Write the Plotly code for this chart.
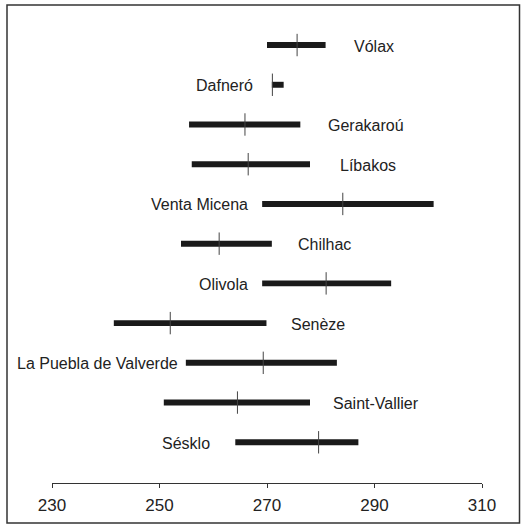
import plotly.graph_objects as go

# Sites, top to bottom
sites = ['Vólax', 'Dafneró', 'Gerakaroú', 'Líbakos', 'Venta Micena', 'Chilhac',
         'Olivola', 'Senèze', 'La Puebla de Valverde', 'Saint-Vallier', 'Sésklo']
low = [270.0, 270.9, 255.5, 256.0, 269.1, 254.0, 269.1, 241.5, 254.9, 250.8, 264.1]
high = [280.9, 273.1, 276.2, 278.0, 301.0, 270.9, 293.1, 269.9, 283.0, 278.0, 287.0]
mean = [275.6, 271.0, 265.9, 266.5, 284.1, 261.1, 281.0, 252.0, 269.3, 264.5, 279.6]
tick_vals = [230, 250, 270, 290, 310]

# label placement: which side of the bar and pixel gap
label_side = ['r', 'l', 'r', 'r', 'l', 'r', 'l', 'r', 'l', 'r', 'l']
label_gap = [26, 17, 26, 28, 12, 24, 12, 23, 6, 21, 23]

ypos = [-i for i in range(len(sites))]
font = 'Liberation Sans, Arial, sans-serif'

fig = go.Figure()

fig.add_trace(go.Bar(
    y=ypos, x=[h - l for l, h in zip(low, high)], base=low,
    orientation='h', width=0.15,
    marker=dict(color='#1a1a1a', line=dict(width=0)),
    hoverinfo='skip'))

fig.add_trace(go.Scatter(
    x=mean, y=ypos, mode='markers',
    marker=dict(symbol='line-ns', size=16, line=dict(width=1, color='#444')),
    hoverinfo='skip'))

for i, name in enumerate(sites):
    if label_side[i] == 'r':
        fig.add_annotation(x=high[i], y=ypos[i], text=name, showarrow=False,
                           xanchor='left', xshift=label_gap[i], yshift=-1)
    else:
        fig.add_annotation(x=low[i], y=ypos[i], text=name, showarrow=False,
                           xanchor='right', xshift=-label_gap[i], yshift=-1)

# outer frame
fig.add_shape(type='rect', xref='paper', yref='paper',
              x0=(7 - 52) / 430, x1=(519.5 - 52) / 430,
              y0=-(523 - 483) / 478, y1=1,
              line=dict(color='#333', width=1.5))

fig.update_layout(
    width=521, height=525,
    margin=dict(l=52, r=39, t=5, b=42),
    paper_bgcolor='white', plot_bgcolor='white',
    showlegend=False,
    font=dict(family=font, size=16, color='#222'),
    xaxis=dict(range=[230, 310], tickvals=tick_vals, showgrid=False, zeroline=False,
               showline=True, linecolor='#333', linewidth=1,
               ticks='outside', ticklen=4, tickcolor='#333',
               ticklabelstandoff=3,
               tickfont=dict(size=17, color='#222')),
    yaxis=dict(range=[-11.025, 1.008], visible=False, showgrid=False, zeroline=False),
)

fig.write_html("out.html", config={'displayModeBar': False},
               post_script="document.body.style.margin='0';document.body.style.overflow='hidden';")
